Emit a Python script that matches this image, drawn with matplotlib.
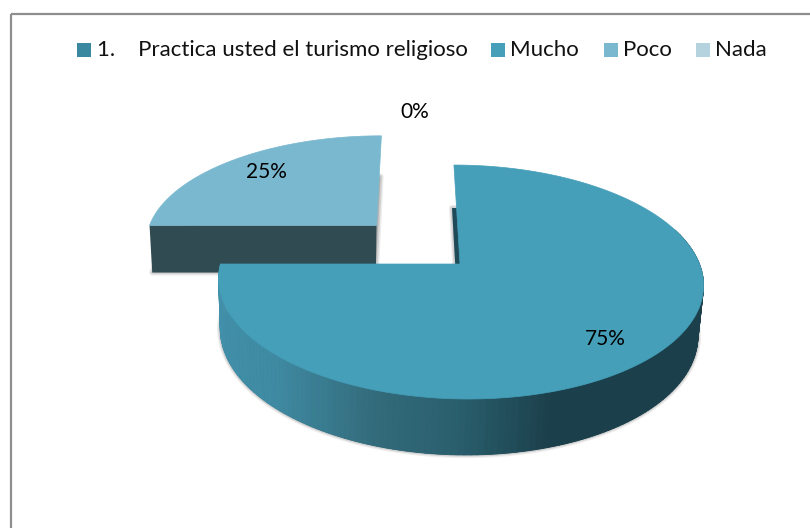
# -*- coding: utf-8 -*-
import numpy as np
import matplotlib
matplotlib.use("Agg")
from matplotlib import pyplot as plt
from matplotlib.collections import PolyCollection
from matplotlib.colors import LinearSegmentedColormap
from matplotlib.patches import Polygon, Rectangle

# datos
categories = ["Mucho", "Poco", "Nada"]
values = [75, 25, 0]
series_name = "1.    Practica usted el turismo religioso"

# estilo
top_colors = {"Mucho": "#459FB9", "Poco": "#7AB8CF", "Nada": "#B4D3DF"}
explode = {"Mucho": 0.0, "Poco": 0.505, "Nada": 0.0}
label_pos = {"Mucho": (605, 339), "Poco": (266, 172), "Nada": (415, 112)}
legend_x = {"Mucho": 491, "Poco": 604, "Nada": 696}

# proyeccion en perspectiva (pixeles de la figura)
cx, cy = 460, 264
rx, ry = 239.5, 114.2
k = 0.154
lean = -7


def project(u, v):
    d = 1 + k * v
    return cx + (rx * u + lean * v) / d, cy - ry * v / d


def project_bottom(u, v):
    x, y = project(u, v)
    return cx + 0.985 * (x - cx) - 2, y + 49.5 - 6.5 * v


def slice_outline(start, stop, offset):
    t = np.linspace(start, stop, 200)
    u = np.sin(t) + offset[0]
    v = np.cos(t) + offset[1]
    u = np.concatenate([[offset[0]], u])
    v = np.concatenate([[offset[1]], v])
    return u, v


plt.rcParams["font.family"] = ["Lato", "DejaVu Sans"]
fig = plt.figure(figsize=(8.10, 5.28), dpi=100)
ax = fig.add_axes([0, 0, 1, 1])
ax.set_xlim(0, 810)
ax.set_ylim(528, 0)
ax.axis("off")

# marco
ax.add_patch(Rectangle((10.5, 13.5), 900, 700, fill=False, ec="#8E8E8E", lw=1.6))

wall_cmap = LinearSegmentedColormap.from_list(
    "wall", [(0.0, "#418FA9"), (0.12, "#3F8AA2"), (0.33, "#336B7B"), (0.5, "#2A5F6D"),
             (0.7, "#1B3F4B"), (1.0, "#1B3F4B")])

# primero la porcion separada, para que la grande quede encima
order = np.argsort(values)
total = float(sum(values))
starts = dict(zip(categories, np.cumsum([0] + values[:-1]) / total * 2 * np.pi))
for i in order:
    name = categories[i]
    if values[i] == 0:
        continue
    start = starts[name]
    stop = start + values[i] / total * 2 * np.pi
    mid = (start + stop) / 2
    offset = (explode[name] * np.sin(mid), explode[name] * np.cos(mid))
    u, v = slice_outline(start, stop, offset)
    bx, by = project_bottom(u, v)

    # sombra
    for lw, alpha in [(4.5, 0.10), (2.5, 0.18)]:
        ax.add_patch(Polygon(np.c_[bx, by], closed=True, fc="#555555", ec="#555555",
                             lw=lw, alpha=alpha, joinstyle="round"))

    # paredes
    x, y = project(u, v)
    if name == "Mucho":
        ax.add_patch(Polygon(np.c_[bx, by], closed=True, fc="#1F4A58", ec="none"))
        # solo el arco frontal lleva degradado
        quads = []
        colors = []
        for j in range(1, len(u) - 1):
            if v[j + 1] < 0.3:
                quads.append([(x[j], y[j]), (x[j + 1], y[j + 1]), (bx[j + 1], by[j + 1]), (bx[j], by[j])])
                colors.append(wall_cmap(np.clip((x[j] - 218) / (703 - 218), 0, 1)))
        ax.add_collection(PolyCollection(quads, facecolors=colors, edgecolors=colors, linewidths=0.6))
    else:
        # pared frontal de la porcion
        ax.add_patch(Polygon([(x[0], y[0]), (x[1], y[1]), (bx[1], by[1]), (bx[0], by[0])],
                             closed=True, fc="#314B53", ec="none"))

    # cara superior
    ax.add_patch(Polygon(np.c_[x, y], closed=True, fc=top_colors[name], ec=top_colors[name], lw=0.5))

# etiquetas de datos
for name, val in zip(categories, values):
    ax.text(label_pos[name][0], label_pos[name][1], "{}%".format(val), ha="center", va="center",
            fontsize=15, color="black")

# leyenda
ax.add_patch(Rectangle((77, 43), 14, 14, fc="#3A87A0", ec="none"))
ax.text(97, 50, series_name, ha="left", va="center", fontsize=16, color="#111111")
for name in categories:
    ax.add_patch(Rectangle((legend_x[name], 43), 14, 14, fc=top_colors[name], ec="none"))
    ax.text(legend_x[name] + 19, 50, name, ha="left", va="center", fontsize=16, color="#111111")

plt.savefig("out.png", dpi=100)
plt.clf()
